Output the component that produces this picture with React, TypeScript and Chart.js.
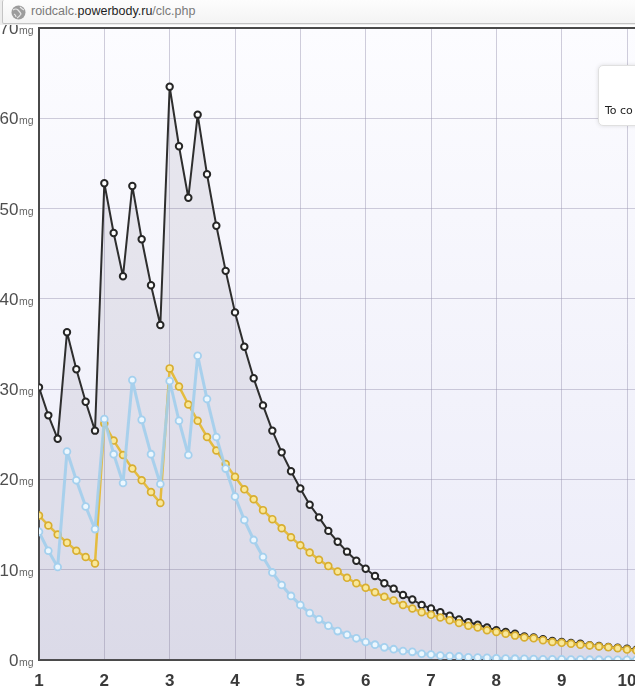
import React, { useEffect, useRef } from 'react';
import { Chart, registerables } from 'chart.js';

Chart.register(...registerables);

// day index (0 = start of week 1)
const days: number[] = Array.from({ length: 65 }, (_, i) => i);

// total blood level (black)
const totalMg: number[] = [
  30.2, 27.1, 24.5, 36.3, 32.2, 28.6, 25.4,
  52.8, 47.3, 42.5, 52.5, 46.6, 41.5, 37.1,
  63.5, 56.9, 51.2, 60.4, 53.8, 48.1, 43.1,
  38.5, 34.7, 31.2, 28.2, 25.4, 23.0, 20.9,
  19.0, 17.2, 15.8, 14.3, 13.1, 12.0, 11.0,
  10.1, 9.3, 8.5, 7.9, 7.2, 6.7, 6.1,
  5.7, 5.3, 4.9, 4.5, 4.2, 3.9, 3.6,
  3.3, 3.1, 2.9, 2.6, 2.5, 2.3, 2.1,
  2.0, 1.9, 1.8, 1.65, 1.55, 1.45, 1.35,
  1.25, 1.15,
];

// yellow series
const yellowMg: number[] = [
  16.0, 14.9, 13.9, 13.0, 12.1, 11.4, 10.7,
  26.2, 24.3, 22.7, 21.2, 19.9, 18.6, 17.4,
  32.3, 30.3, 28.3, 26.5, 24.7, 23.2, 21.7,
  20.3, 18.9, 17.8, 16.6, 15.6, 14.6, 13.6,
  12.7, 11.9, 11.1, 10.4, 9.8, 9.1, 8.5,
  8.0, 7.5, 7.0, 6.6, 6.1, 5.7, 5.3,
  5.0, 4.7, 4.4, 4.1, 3.8, 3.6, 3.3,
  3.1, 2.9, 2.7, 2.5, 2.4, 2.2, 2.0,
  1.9, 1.8, 1.7, 1.6, 1.5, 1.4, 1.3,
  1.15, 1.05,
];

// light blue series
const blueMg: number[] = [
  14.2, 12.1, 10.3, 23.1, 19.9, 17.0, 14.5,
  26.7, 22.8, 19.6, 31.0, 26.6, 22.8, 19.5,
  30.9, 26.5, 22.7, 33.7, 28.9, 24.7, 21.2,
  18.1, 15.5, 13.3, 11.4, 9.7, 8.3, 7.1,
  6.1, 5.2, 4.5, 3.8, 3.2, 2.8, 2.4,
  2.0, 1.7, 1.4, 1.2, 1.0, 0.9, 0.7,
  0.6, 0.5, 0.45, 0.4, 0.3, 0.28, 0.24,
  0.2, 0.17, 0.15, 0.13, 0.11, 0.09, 0.08,
  0.07, 0.06, 0.05, 0.04, 0.04, 0.03, 0.03,
  0.02, 0.02,
];

const yTickValues: number[] = [0, 10, 20, 30, 40, 50, 60, 70];
const yUnit = 'mg';
const urlPrefix = 'roidcalc.';
const urlDomain = 'powerbody.ru';
const urlPath = '/clc.php';
const boxText = 'To co';

const PX_PER_DAY = 588 / 63;

const chartPlugin = {
  id: 'decor',
  beforeDraw(chart: any) {
    const { ctx, chartArea: a } = chart;
    const g = ctx.createLinearGradient(0, a.top, 0, a.bottom);
    g.addColorStop(0, '#fcfcff');
    g.addColorStop(1, '#ebebf8');
    ctx.save();
    ctx.fillStyle = g;
    ctx.fillRect(a.left, a.top, a.right - a.left, a.bottom - a.top);
    ctx.restore();
  },
  beforeDatasetsDraw(chart: any) {
    const { ctx, chartArea: a } = chart;
    ctx.save();
    ctx.strokeStyle = '#4a4a4a';
    ctx.lineWidth = 2;
    ctx.beginPath();
    ctx.moveTo(a.left - 1, a.top);
    ctx.lineTo(a.right, a.top);
    ctx.stroke();
    ctx.restore();
  },
  afterDraw(chart: any) {
    const { ctx } = chart;
    const ys = chart.scales.y;
    ctx.save();
    ctx.textBaseline = 'alphabetic';
    for (const v of yTickValues) {
      const py = ys.getPixelForValue(v) + 6;
      ctx.font = '17px "Liberation Sans", Arial, sans-serif';
      ctx.fillStyle = '#4e4e4e';
      ctx.textAlign = 'right';
      ctx.fillText(String(v), 18.5, py);
      ctx.font = '10.5px "Liberation Sans", Arial, sans-serif';
      ctx.fillStyle = '#666';
      ctx.textAlign = 'left';
      ctx.fillText(yUnit, 19, py);
    }
    ctx.restore();
  },
};

export default function App() {
  const ref = useRef<HTMLCanvasElement | null>(null);

  useEffect(() => {
    if (!ref.current) return;
    const chart = new Chart(ref.current, {
      type: 'line',
      data: {
        labels: days,
        datasets: [
          {
            label: 'total',
            data: totalMg,
            order: 3,
            borderColor: '#2e2e2e',
            borderWidth: 2,
            borderJoinStyle: 'round',
            backgroundColor: 'rgba(110,100,125,0.12)',
            fill: 'origin',
            tension: 0,
            pointRadius: 3.2,
            pointBorderWidth: 2,
            pointBackgroundColor: '#ffffff',
            pointBorderColor: '#262626',
          },
          {
            label: 'yellow',
            data: yellowMg,
            order: 2,
            borderColor: '#e4bc40',
            borderWidth: 2.5,
            borderJoinStyle: 'round',
            fill: false,
            tension: 0,
            pointRadius: 3.4,
            pointBorderWidth: 1.7,
            pointBackgroundColor: '#f9e89a',
            pointBorderColor: '#d8ae30',
          },
          {
            label: 'blue',
            data: blueMg,
            order: 1,
            borderColor: 'rgba(162,206,236,0.9)',
            borderWidth: 3,
            borderJoinStyle: 'round',
            fill: false,
            tension: 0,
            pointRadius: 3.4,
            pointBorderWidth: 1.8,
            pointBackgroundColor: '#ecf7fe',
            pointBorderColor: '#a4d0ee',
          },
        ],
      },
      options: {
        responsive: false,
        animation: false,
        layout: { padding: { top: 28, left: 0, right: 0, bottom: 0 } },
        plugins: {
          legend: { display: false },
          tooltip: { enabled: false },
        },
        scales: {
          x: {
            type: 'linear',
            min: 0,
            max: (720 - 39) / PX_PER_DAY,
            afterFit: (s: any) => { s.height = 38; },
            afterBuildTicks: (s: any) => {
              s.ticks = s.ticks.filter((t: any) => Math.abs(t.value % 7) < 1e-6);
            },
            ticks: {
              stepSize: 7,
              autoSkip: false,
              maxRotation: 0,
              padding: 11,
              color: '#3a3a3a',
              font: { family: '"Liberation Sans", Arial, sans-serif', size: 17, weight: 'bold' },
              callback: (v: any) => String(Math.round(Number(v) / 7) + 1),
            },
            grid: { color: 'rgba(150,146,176,0.45)', lineWidth: 1, drawTicks: false },
            border: { display: true, color: '#4a4a4a', width: 2 },
          },
          y: {
            min: 0,
            max: 70,
            afterFit: (s: any) => { s.width = 39; },
            ticks: { stepSize: 10, display: false },
            grid: { color: 'rgba(150,146,176,0.45)', lineWidth: 1, drawTicks: false },
            border: { display: true, color: '#4a4a4a', width: 2 },
          },
        },
      },
      plugins: [chartPlugin],
    });
    // match the day width of the original: rescale max to the real plot width
    for (let k = 0; k < 3; k++) {
      const a = chart.chartArea;
      const want = (a.right - a.left) / PX_PER_DAY;
      (chart.options.scales as any).x.max = want;
      chart.update();
    }
    return () => chart.destroy();
  }, []);

  return (
    <div style={{ position: 'absolute', left: 0, top: 0, width: 635, height: 698, overflow: 'hidden', background: '#fff' }}>
      <canvas ref={ref} width={720} height={698} style={{ position: 'absolute', left: 0, top: 0, width: 720, height: 698 }} />
      <div style={{ position: 'absolute', left: 0, top: 0, width: 635, height: 25, background: '#ededed' }}>
        <div
          style={{
            position: 'absolute', left: 2, top: 0, width: 660, height: 23,
            border: '1px solid #c4c4c4', borderTop: 'none', borderRadius: 2,
            background: 'linear-gradient(#fdfdfd, #f4f4f4)',
          }}
        >
          <svg width="15" height="15" viewBox="0 0 15 15" style={{ position: 'absolute', left: 8, top: 5 }}>
            <circle cx="7.5" cy="7.5" r="7" fill="#9c9c9c" />
            <path d="M2 5 Q5 3 7 5 T10 9 Q8 12 6 13 M9 2 Q11 4 13 5 M3 9 Q5 10 5 12" stroke="#e6e6e6" strokeWidth="1.2" fill="none" />
          </svg>
          <div
            style={{
              position: 'absolute', left: 28, top: 4, whiteSpace: 'nowrap',
              fontFamily: '"Liberation Sans", Arial, sans-serif', fontSize: 12.5, color: '#7a7a7a',
            }}
          >
            {urlPrefix}
            <span style={{ color: '#1e1e1e' }}>{urlDomain}</span>
            {urlPath}
          </div>
        </div>
      </div>
      <div
        style={{
          position: 'absolute', left: 598, top: 65, width: 120, height: 59,
          background: '#fff', border: '1px solid #e0e0e0', borderRadius: 5,
          boxShadow: '0 0 4px rgba(0,0,0,0.12)',
        }}
      >
        <div
          style={{
            position: 'absolute', left: 6, top: 38, whiteSpace: 'nowrap',
            fontFamily: '"DejaVu Sans", Verdana, sans-serif', fontSize: 11, color: '#222',
          }}
        >
          {boxText}
        </div>
      </div>
    </div>
  );
}
